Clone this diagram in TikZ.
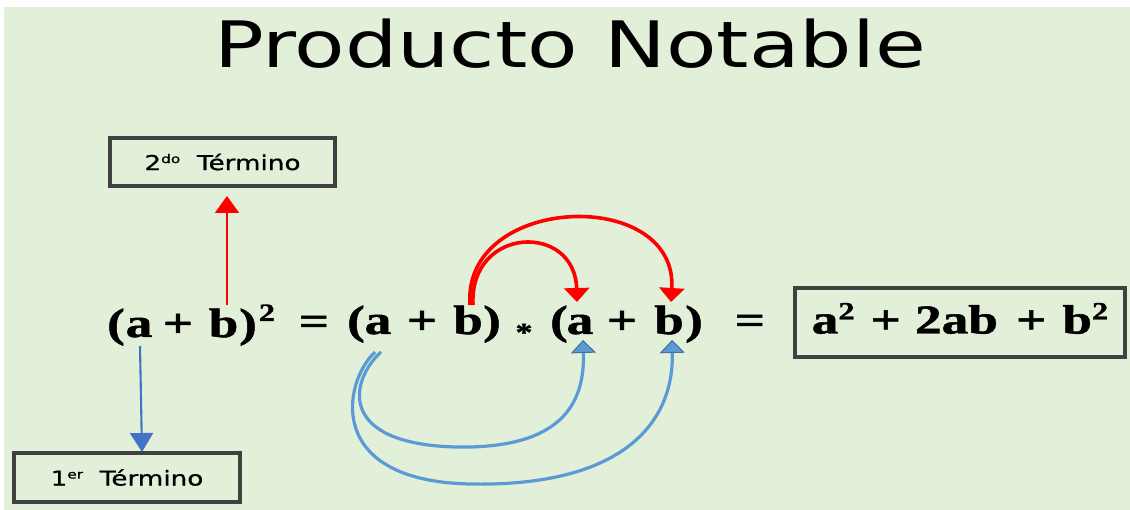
\documentclass[tikz,border=0pt]{standalone}
\usepackage{fontspec}
\setmainfont{Liberation Serif}
\newfontfamily\eqfont{Liberation Serif}[FakeStretch=1.3,FakeBold=1.2]
\newfontfamily\termfont{DejaVu Sans}[FakeStretch=1.28,FakeBold=0.8]
\newfontfamily\titlefont{DejaVu Sans}[FakeStretch=1.29]
\usetikzlibrary{arrows.meta}
\definecolor{bg}{HTML}{E2EFD9}
\definecolor{boxline}{HTML}{404040}
\definecolor{bluecurve}{HTML}{5B9BD5}
\definecolor{blueedge}{HTML}{41719C}
\definecolor{bluestraight}{HTML}{4472C4}
\newcommand\mysup[1]{\raisebox{14pt}{\fontsize{25}{28}\selectfont #1}}
\newcommand\termsup[1]{\raisebox{7pt}{\fontsize{12}{14}\selectfont #1}}
\begin{document}
\begin{tikzpicture}[x=1pt,y=-1pt,
  glyph/.style={anchor=base,inner sep=0pt,font=\eqfont\bfseries\fontsize{41}{48}\selectfont},
  termbox/.style={draw=boxline,line width=3.4pt,minimum width=225pt,minimum height=48pt,inner sep=0pt,font=\termfont\fontsize{20.5}{24}\selectfont},
  redcurve/.style={draw=red,line width=3.6pt,-{Triangle[width=25pt,length=14pt]}},
  bluearc/.style={draw=bluecurve,line width=3.2pt,-{Triangle[width=25pt,length=13pt,fill=bluecurve,color=blueedge,line width=1pt]}}
]
\useasboundingbox (0,0) rectangle (1130,510);
\fill[bg] (4,7) rectangle (1130,510);

% title
\node[anchor=base,inner sep=0pt,font=\titlefont\fontsize{64}{70}\selectfont] (title) at (570,68) {Producto Notable};

% term boxes
\node[termbox] (t2) at (222.5,162) {2\termsup{do}\ \ Término};
\node[termbox,minimum width=226pt,minimum height=49pt] (t1) at (127,477.5) {1\termsup{er}\ \ Término};

% equation glyphs
\node[glyph] (p1) at (116,337) {(};
\node[glyph] (a1) at (139,337) {a};
\node[glyph] (pl1) at (178,337) {+};
\node[glyph] (b1) at (223.5,337) {b};
\node[glyph] (q1) at (248,337) {)};
\node[glyph,font=\eqfont\bfseries\fontsize{25}{28}\selectfont] (s1) at (267,321) {2};
\node[glyph] (eq1) at (314,335) {=};
\node[glyph] (p2) at (356,334) {(};
\node[glyph] (a2) at (378,334) {a};
\node[glyph] (pl2) at (422,334) {+};
\node[glyph] (b2) at (468,334) {b};
\node[glyph] (q2) at (492,334) {)};
\node[glyph,font=\eqfont\bfseries\fontsize{26}{28}\selectfont] (ast) at (524,341) {*};
\node[glyph] (p3) at (559,334) {(};
\node[glyph] (a3) at (580,334) {a};
\node[glyph] (pl3) at (622,334) {+};
\node[glyph] (b3) at (669,334) {b};
\node[glyph] (q3) at (694,334) {)};
\node[glyph] (eq2) at (750,334) {=};

% result box
\node[draw=boxline,line width=3.4pt,minimum width=330pt,minimum height=69pt,inner sep=0pt,
      text height=30pt,text depth=8pt,font=\eqfont\bfseries\fontsize{41}{48}\selectfont]
      (res) at (960,322.5) {a\mysup{2}\hspace{16pt}+\hspace{14pt}2ab\hspace{18pt}+\hspace{16pt}b\mysup{2}\hspace{4pt}};

% anchor coordinates
\coordinate (b1top) at (227,305);
\coordinate (t2bot) at (227,196);
\coordinate (a1bot) at (140,346);
\coordinate (t1top) at (142,452);
\coordinate (b2topA) at (473,305);
\coordinate (b2topB) at (470,305);
\coordinate (a3top) at (577,302);
\coordinate (b3top) at (671,302);
\coordinate (a2botA) at (381,352);
\coordinate (a2botB) at (375,352);
\coordinate (a3bot) at (583,340);
\coordinate (b3bot) at (672,340);

% straight arrows
\draw[red,line width=2.1pt,-{Triangle[width=24pt,length=17pt]}] (b1top) -- (t2bot);
\draw[bluestraight,line width=2.1pt,-{Triangle[width=23pt,length=19pt]}] (a1bot) -- (t1top);

% red curves
\draw[redcurve] (b2topA) .. controls (469,226) and (575,222) .. (a3top);
\draw[redcurve] (b2topB) .. controls (462,194) and (678,186) .. (b3top);

% blue curves
\draw[bluearc] (a2botA) .. controls (350,380) and (336,444) .. (456,447)
   .. controls (560,449) and (585,405) .. (a3bot);
\draw[bluearc] (a2botB) .. controls (343,382) and (324,481) .. (470,484)
   .. controls (620,487) and (674,425) .. (b3bot);
\end{tikzpicture}
\end{document}
